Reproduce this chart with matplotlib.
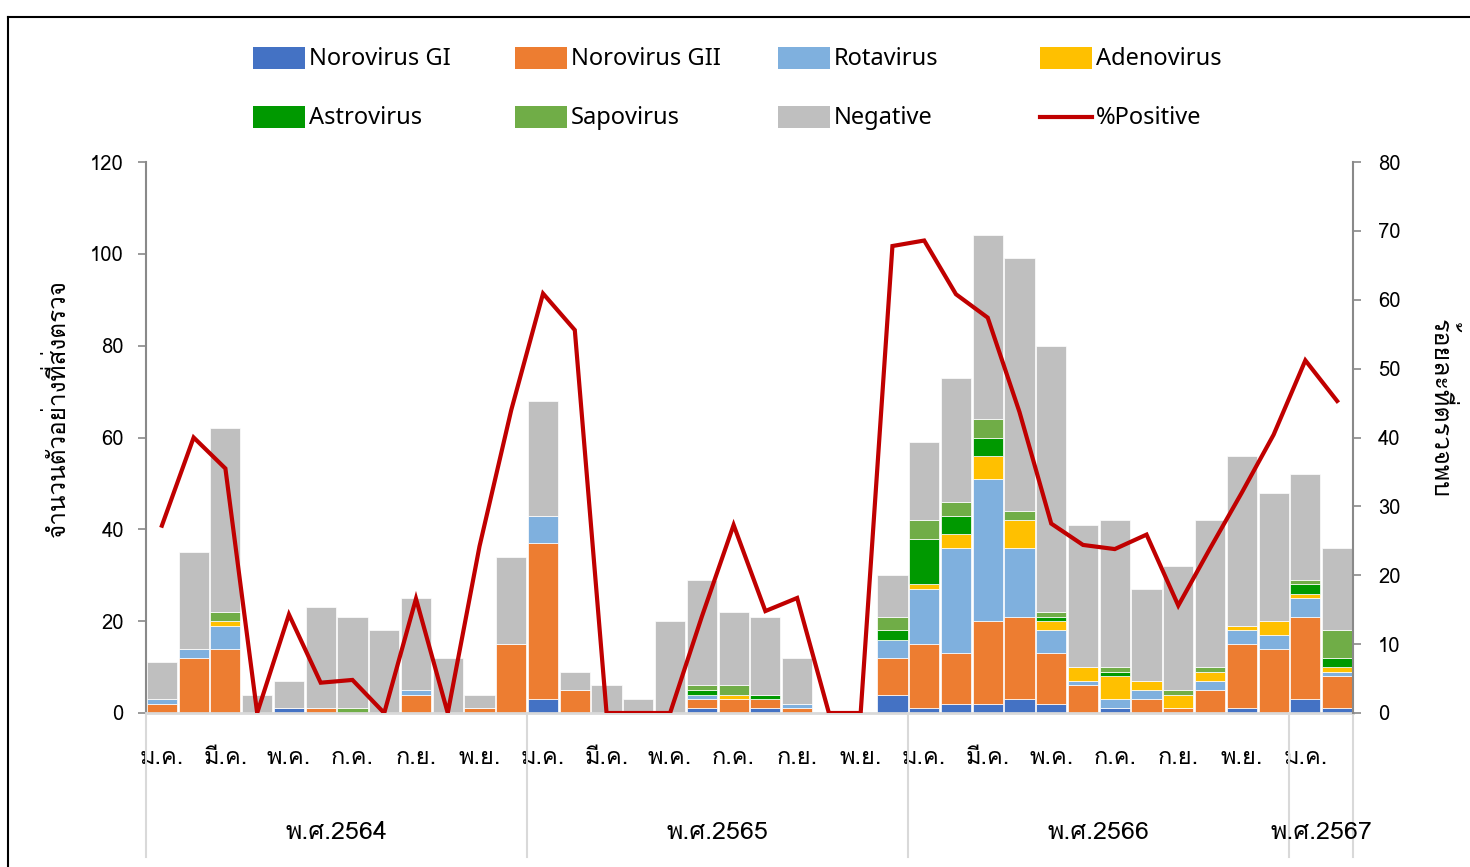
import matplotlib
matplotlib.use("Agg")
import matplotlib.pyplot as plt
from matplotlib import font_manager as fm
from matplotlib.ft2font import FT2Font
from matplotlib.patches import Rectangle
from matplotlib.lines import Line2D
import matplotlib.transforms as mtransforms
import numpy as np

# ---- pick a font with Thai glyphs (prefer Loma) ----
thai_fonts = []
for f in fm.fontManager.ttflist:
    try:
        ft = FT2Font(f.fname)
        if ft.get_char_index(ord('ก')) and ft.get_char_index(ord('ำ')):
            if f.name not in thai_fonts:
                thai_fonts.append(f.name)
    except Exception:
        pass
pref = [n for n in ['Loma', 'Tlwg Typo', 'Garuda', 'Anuphan'] if n in thai_fonts]
THAI = (pref[:1] or thai_fonts[:1])
FAM = THAI + ['DejaVu Sans']
plt.rcParams['font.family'] = FAM
LATIN = ['Noto Sans', 'DejaVu Sans']

# ---- data ----
norovirus_gi = [0,0,0,0,1,0,0,0,0,0,0,0,
                3,0,0,0,0,1,0,1,0,0,0,4,
                1,2,2,3,2,0,1,0,0,0,1,0,
                3,1]
norovirus_gii = [2,12,14,0,0,1,0,0,4,0,1,15,
                 34,5,0,0,0,2,3,2,1,0,0,8,
                 14,11,18,18,11,6,0,3,1,5,14,14,
                 18,7]
rotavirus = [1,2,5,0,0,0,0,0,1,0,0,0,
             6,0,0,0,0,1,0,0,1,0,0,4,
             12,23,31,15,5,1,2,2,0,2,3,3,
             4,1]
adenovirus = [0,0,1,0,0,0,0,0,0,0,0,0,
              0,0,0,0,0,0,1,0,0,0,0,0,
              1,3,5,6,2,3,5,2,3,2,1,3,
              1,1]
astrovirus = [0,0,0,0,0,0,0,0,0,0,0,0,
              0,0,0,0,0,1,0,1,0,0,0,2,
              10,4,4,0,1,0,1,0,0,0,0,0,
              2,2]
sapovirus = [0,0,2,0,0,0,1,0,0,0,0,0,
             0,0,0,0,0,1,2,0,0,0,0,3,
             4,3,4,2,1,0,1,0,1,1,0,0,
             1,6]
negative = [8,21,40,4,6,22,20,18,20,12,3,19,
            25,4,6,3,20,23,16,17,10,0,0,9,
            17,27,40,55,58,31,32,20,27,32,37,28,
            23,18]
pct_positive = [27.2,40.0,35.5,0,14.3,4.4,4.8,0,16.6,0,24.2,44.0,
                60.9,55.6,0,0,0,14.0,27.3,14.8,16.7,0,0,67.8,
                68.6,60.8,57.4,43.7,27.5,24.4,23.8,25.9,15.6,23.9,32.0,40.4,
                51.2,45.3]
month_labels = ['ม.ค.','ก.พ.','มี.ค.','เม.ย.','พ.ค.','มิ.ย.',
                'ก.ค.','ส.ค.','ก.ย.','ต.ค.','พ.ย.','ธ.ค.']
year_labels = ['พ.ศ.2564','พ.ศ.2565','พ.ศ.2566','พ.ศ.2567']
year_lengths = [12, 12, 12, 2]

series = [
    ('Norovirus GI', norovirus_gi, '#4472C4'),
    ('Norovirus GII', norovirus_gii, '#ED7D31'),
    ('Rotavirus', rotavirus, '#7FB0DE'),
    ('Adenovirus', adenovirus, '#FFC000'),
    ('Astrovirus', astrovirus, '#009900'),
    ('Sapovirus', sapovirus, '#70AD47'),
    ('Negative', negative, '#BFBFBF'),
]
LINE_COLOR = '#C00000'

W, H = 1470, 867
fig = plt.figure(figsize=(W/100, H/100), dpi=100)
ax = fig.add_axes([146/W, 1-713/H, (1353-146)/W, (713-162)/H])

n = len(negative)
x = np.arange(n)
bottom = np.zeros(n)
for name, vals, col in series:
    v = np.array(vals, dtype=float)
    ax.bar(x, v, bottom=bottom, width=0.95, color=col, edgecolor='white',
           linewidth=0.5, label=name, zorder=2)
    bottom += v

ax.set_xlim(-0.5, n-0.5)
ax.set_ylim(0, 120)
ax.set_yticks(range(0, 121, 20))
ax.tick_params(axis='y', direction='out', length=6, width=1.2, color='#898989',
               labelsize=14.5, pad=10)
ax.spines['top'].set_visible(False)
ax.spines['left'].set_color('#898989')
ax.spines['left'].set_linewidth(1.5)
ax.spines['right'].set_visible(False)
ax.spines['bottom'].set_color('#D9D9D9')
ax.spines['bottom'].set_linewidth(2)

# month ticks
tick_pos = list(range(0, n, 2))
ax.set_xticks(tick_pos)
ax.set_xticklabels([month_labels[i % 12] for i in tick_pos], fontsize=17)
ax.tick_params(axis='x', length=0, pad=24)

ax.set_ylabel('จำนวนตัวอย่างที่ส่งตรวจ', fontsize=17.5, va='center')
ax.yaxis.set_label_coords(-0.0737, 0.553)

ax2 = ax.twinx()
ax2.plot(x, pct_positive, color=LINE_COLOR, linewidth=3.0, zorder=5,
         solid_joinstyle='miter', label='%Positive')
ax2.set_ylim(0, 80)
ax2.set_yticks(range(0, 81, 10))
ax2.tick_params(axis='y', direction='out', length=6, width=1.2, color='#898989',
                labelsize=14.5, pad=12)
for s in ['top', 'left', 'bottom']:
    ax2.spines[s].set_visible(False)
ax2.spines['right'].set_color('#898989')
ax2.spines['right'].set_linewidth(1.5)
ax2.set_ylabel('ร้อยละที่ตรวจพบ', fontsize=18, rotation=270, va='center')
ax2.yaxis.set_label_coords(1.073, 0.553)

# year groups + separators
trans = mtransforms.blended_transform_factory(ax.transData, ax.transAxes)
start = 0
bounds = [-0.5]
for lab, ln in zip(year_labels, year_lengths):
    center = start + (ln - 1) / 2
    ax.text(center, -0.216, lab, transform=trans, ha='center', va='center',
            fontsize=18)
    start += ln
    bounds.append(start - 0.5)
for b in bounds:
    ax.add_line(Line2D([b, b], [0, -0.262], transform=trans, color='#D9D9D9',
                       linewidth=1.5, clip_on=False))

# manual legend
leg_items = [(s[0], s[2], 'patch') for s in series] + [('%Positive', LINE_COLOR, 'line')]
col_x = [253, 515, 778, 1040]
row_y = [58, 117]
for k, (name, col, kind) in enumerate(leg_items):
    r, c = divmod(k, 4)
    x0 = col_x[c]
    y0 = row_y[r]
    if kind == 'patch':
        fig.add_artist(Rectangle((x0/W, 1-(y0+11)/H), 52/W, 22/H,
                                 transform=fig.transFigure, facecolor=col,
                                 edgecolor='none'))
    else:
        fig.add_artist(Line2D([x0/W, (x0+52)/W], [1-y0/H, 1-y0/H],
                              transform=fig.transFigure, color=col, linewidth=3))
    fig.text((x0+56)/W, 1-(y0+1)/H, name, ha='left', va='center', fontsize=17,
             family=LATIN)

# outer frame
fig.add_artist(Line2D([8/W, 8/W], [0, 1-17/H], transform=fig.transFigure,
                      color='black', linewidth=1.5))
fig.add_artist(Line2D([8/W, 1], [1-17/H, 1-17/H], transform=fig.transFigure,
                      color='black', linewidth=1.5))

fig.savefig('out.png', dpi=100)
